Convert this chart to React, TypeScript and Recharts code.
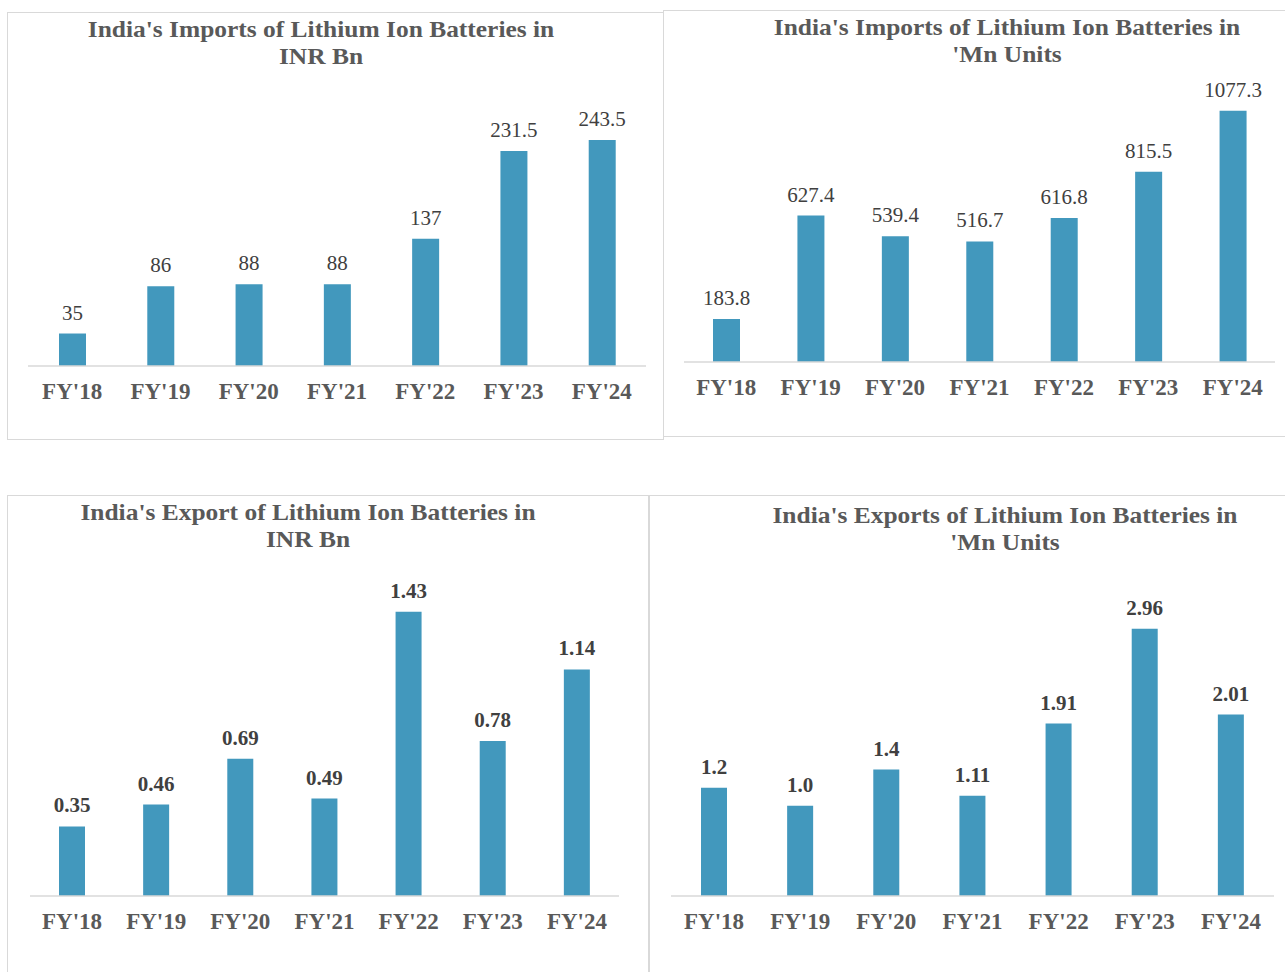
import { Bar, BarChart, LabelList, XAxis, YAxis } from 'recharts'

const years = ["FY'18", "FY'19", "FY'20", "FY'21", "FY'22", "FY'23", "FY'24"]
const importsInr = [35, 86, 88, 88, 137, 231.5, 243.5]
const importsUnits = [183.8, 627.4, 539.4, 516.7, 616.8, 815.5, 1077.3]
const exportsInr = [0.35, 0.46, 0.69, 0.49, 1.43, 0.78, 1.14]
const exportsUnits = [1.2, 1.0, 1.4, 1.11, 1.91, 2.96, 2.01]
const exportsUnitsText = ['1.2', '1.0', '1.4', '1.11', '1.91', '2.96', '2.01']

const FONT = '"Liberation Serif", "Times New Roman", serif'
const BAR_COLOR = '#4298bd'

type PanelProps = {
  title: string[]
  values: number[]
  labels?: string[]
  boldValues: boolean
  box: { left: number; top: number; width: number; height: number; noBottom?: boolean }
  titleCenter: number
  titleTop: number
  margin: { top: number; right: number; bottom: number; left: number }
  yMax: number
  barSize: number
}

function FyTick(props: any) {
  const { x, y, payload } = props
  return (
    <text
      x={x}
      y={y + 25}
      dy="0.35em"
      textAnchor="middle"
      fontFamily={FONT}
      fontWeight="bold"
      fontSize={23}
      fill="#595959"
    >
      {payload.value}
    </text>
  )
}

function Panel({ title, values, labels, boldValues, box, titleCenter, titleTop, margin, yMax, barSize }: PanelProps) {
  const data = years.map((year, i) => ({
    year,
    value: values[i],
    text: labels ? labels[i] : String(values[i]),
  }))

  return (
    <div
      style={{
        position: 'absolute',
        left: box.left,
        top: box.top,
        width: box.width,
        height: box.height,
        boxSizing: 'border-box',
        border: '1.5px solid #d9d9d9',
        borderBottom: box.noBottom ? 'none' : '1.5px solid #d9d9d9',
        background: '#fff',
      }}
    >
      <div
        style={{
          position: 'absolute',
          left: titleCenter - 400,
          width: 800,
          top: titleTop,
          textAlign: 'center',
          fontFamily: FONT,
          fontWeight: 'bold',
          fontSize: 24,
          lineHeight: '27px',
          color: '#595959',
          transform: 'scaleX(1.06)',
        }}
      >
        {title.map((line) => (
          <div key={line}>{line}</div>
        ))}
      </div>
      <div style={{ position: 'absolute', left: 0, top: 0 }}>
        <BarChart width={box.width} height={box.height} data={data} margin={margin}>
          <XAxis
            dataKey="year"
            axisLine={{ stroke: '#d9d9d9', strokeWidth: 1.5 }}
            tickLine={false}
            tickSize={0}
            tickMargin={0}
            height={40}
            interval={0}
            tick={<FyTick />}
          />
          <YAxis hide domain={[0, yMax]} />
          <Bar dataKey="value" fill={BAR_COLOR} barSize={barSize} isAnimationActive={false}>
            <LabelList
              dataKey="text"
              position="top"
              offset={14}
              fontFamily={FONT}
              fontSize={21}
              fontWeight={boldValues ? 'bold' : 'normal'}
              fill="#404040"
            />
          </Bar>
        </BarChart>
      </div>
    </div>
  )
}

export default function App() {
  return (
    <div style={{ position: 'absolute', left: 0, top: 0, width: 1285, height: 972, overflow: 'hidden', background: '#fff' }}>
      <Panel
        title={["India's Imports of Lithium Ion Batteries in", 'INR Bn']}
        values={importsInr}
        boldValues={false}
        box={{ left: 7, top: 12, width: 657, height: 428 }}
        titleCenter={313}
        titleTop={3}
        margin={{ top: 74.5, right: 19, bottom: 35, left: 20 }}
        yMax={300}
        barSize={27}
      />
      <Panel
        title={["India's Imports of Lithium Ion Batteries in", "'Mn Units"]}
        values={importsUnits}
        boldValues={false}
        box={{ left: 663, top: 10, width: 630, height: 427 }}
        titleCenter={343}
        titleTop={3}
        margin={{ top: 71, right: 19, bottom: 36, left: 20 }}
        yMax={1200}
        barSize={27}
      />
      <Panel
        title={["India's Export of Lithium Ion Batteries in", 'INR Bn']}
        values={exportsInr}
        boldValues={true}
        box={{ left: 7, top: 495, width: 642, height: 477, noBottom: true }}
        titleCenter={300}
        titleTop={3}
        margin={{ top: 82, right: 31, bottom: 37, left: 22 }}
        yMax={1.6}
        barSize={26}
      />
      <Panel
        title={["India's Exports of Lithium Ion Batteries in", "'Mn Units"]}
        values={exportsUnits}
        labels={exportsUnitsText}
        boldValues={true}
        box={{ left: 649, top: 495, width: 640, height: 477, noBottom: true }}
        titleCenter={355}
        titleTop={6}
        margin={{ top: 84, right: 16, bottom: 37, left: 21 }}
        yMax={3.5}
        barSize={26}
      />
    </div>
  )
}
